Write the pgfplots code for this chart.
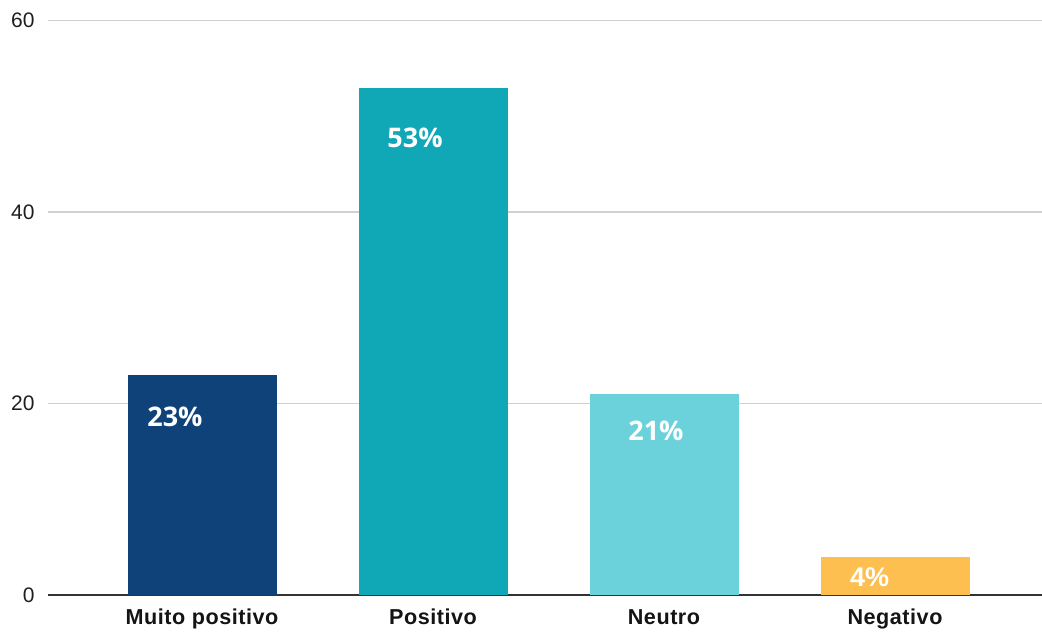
\documentclass[border=0pt]{standalone}
\usepackage{fontspec}
\setmainfont{Liberation Sans}
\newfontfamily\pctfont{Open Sans}
\newfontfamily\arialb{Liberation Sans}
\usepackage{pgfplots}
\pgfplotsset{compat=1.18}

\definecolor{muitopos}{RGB}{14,66,121}
\definecolor{positivo}{RGB}{16,167,183}
\definecolor{neutro}{RGB}{107,209,219}
\definecolor{negativo}{RGB}{253,191,80}
\definecolor{gridgray}{RGB}{208,208,208}
\definecolor{axisdark}{RGB}{51,51,51}

\begin{document}
\begin{tikzpicture}
\begin{axis}[
  scale only axis,
  width=497pt, height=287.2pt,
  xmin=-0.6667, xmax=3.6364,
  ymin=0, ymax=60,
  axis line style={draw=none},
  tick style={draw=none},
  ymajorgrids,
  grid style={color=gridgray, line width=0.75pt},
  ytick={20,40,60},
  extra y ticks={0},
  extra y tick style={grid style={color=axisdark, line width=1pt}},
  /pgf/number format/assume math mode=true,
  yticklabel style={font=\fontsize{10.5}{12}\selectfont, text=black!88,
    inner sep=0pt, anchor=east, xshift=-6.5pt},
  xtick={0,1,2,3},
  xticklabels={Muito positivo, Positivo, Neutro, Negativo},
  xticklabel style={font=\bfseries\fontsize{10.8}{12}\selectfont\addfontfeature{LetterSpace=2.5},
    text=black!92, inner sep=0pt, anchor=base, yshift=-14.5pt},
  clip=false,
]
\addplot[ybar, bar width=74.5pt, bar shift=0pt, fill=muitopos, draw=none] coordinates {(0,23)};
\addplot[ybar, bar width=74.5pt, bar shift=0pt, fill=positivo, draw=none] coordinates {(1,53)};
\addplot[ybar, bar width=74.5pt, bar shift=0pt, fill=neutro, draw=none] coordinates {(2,21)};
\addplot[ybar, bar width=74.5pt, bar shift=0pt, fill=negativo, draw=none] coordinates {(3,4)};

% percentage labels inside the bars
\addplot[draw=none, mark=none, nodes near coords, point meta=explicit symbolic,
  every node near coord/.append style={anchor=base, inner sep=0pt, text=white,
    font=\pctfont\bfseries\fontsize{13.5}{14}\selectfont}]
  coordinates {
    (-0.117,17.6) [23\%]
    (0.922,46.8) [53\%]
    (1.965,16.2) [21\%]
    (2.890,0.85) [\arialb 4\%]
  };
\end{axis}
\pgfresetboundingbox
\path[use as bounding box] (-24pt,-18pt) rectangle (497pt,297.55pt);
\end{tikzpicture}
\end{document}
